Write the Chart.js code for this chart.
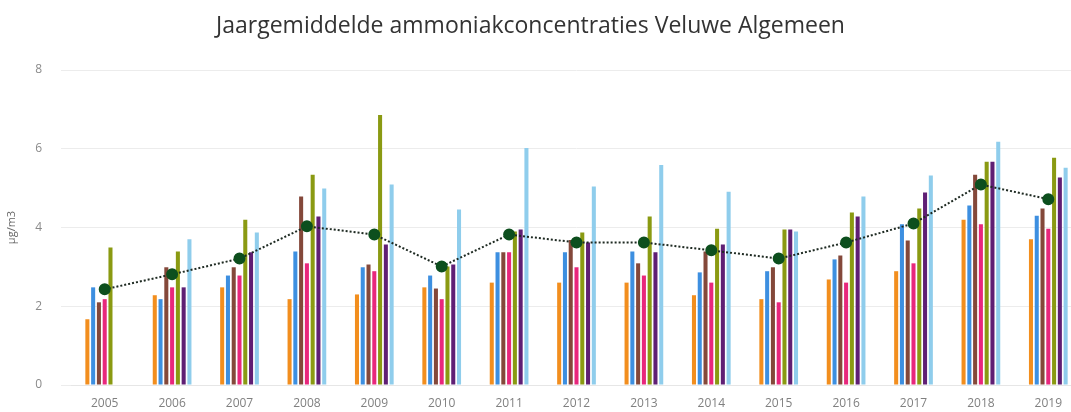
<!DOCTYPE html>
<html lang="nl">
<head>
    <meta charset="UTF-8">
    <title>Ammoniak Veluwe</title>
    <script src="https://cdn.jsdelivr.net/npm/chart.js"></script>
    <style>
        html, body { margin: 0; padding: 0; background: #fff; overflow: hidden; }
        #wrap { position: relative; width: 1071px; height: 412px; overflow: hidden; }
        #wrap canvas { position: absolute; left: 0; top: 0; }
        #title {
            position: absolute; left: 0; top: 9px; width: 1061px;
            text-align: center; font-family: 'Open Sans', sans-serif;
            font-size: 23px; color: #333; line-height: 30px; z-index: 2;
        }
    </style>
</head>
<body>
    <div id="wrap">
        <div id="title">Jaargemiddelde ammoniakconcentraties Veluwe Algemeen</div>
        <canvas id="nh3Chart" width="1089" height="412"></canvas>
    </div>

    <script>
        // Jaren en gemeten jaargemiddelden per meetpunt (µg/m3)
        const years = ["2005", "2006", "2007", "2008", "2009", "2010", "2011", "2012", "2013", "2014", "2015", "2016", "2017", "2018", "2019"];
        const yTicks = [0, 2, 4, 6, 8];

        const meetpuntA = [1.67, 2.28, 2.48, 2.18, 2.30, 2.48, 2.60, 2.60, 2.60, 2.28, 2.18, 2.68, 2.89, 4.20, 3.70];
        const meetpuntB = [2.48, 2.18, 2.78, 3.39, 2.99, 2.78, 3.37, 3.37, 3.39, 2.86, 2.89, 3.19, 4.08, 4.56, 4.30];
        const meetpuntC = [2.10, 2.99, 2.99, 4.79, 3.06, 2.45, 3.37, 3.68, 3.09, 3.39, 2.99, 3.29, 3.67, 5.34, 4.48];
        const meetpuntD = [2.18, 2.48, 2.78, 3.09, 2.89, 2.18, 3.37, 2.99, 2.78, 2.60, 2.10, 2.60, 3.09, 4.08, 3.97];
        const meetpuntE = [3.49, 3.39, 4.20, 5.34, 6.86, 3.01, 3.90, 3.87, 4.28, 3.97, 3.95, 4.38, 4.48, 5.67, 5.77];
        const meetpuntF = [null, 2.48, 3.37, 4.28, 3.57, 3.06, 3.95, 3.62, 3.37, 3.57, 3.95, 4.28, 4.89, 5.67, 5.27];
        const meetpuntG = [null, 3.70, 3.87, 4.99, 5.09, 4.46, 6.02, 5.04, 5.59, 4.91, 3.90, 4.79, 5.32, 6.18, 5.52];
        const gemiddelde = [2.43, 2.81, 3.21, 4.03, 3.82, 3.01, 3.82, 3.62, 3.62, 3.42, 3.21, 3.62, 4.10, 5.09, 4.72];

        const barSeries = [
            { label: "Meetpunt A", data: meetpuntA, color: "#f28e1e" },
            { label: "Meetpunt B", data: meetpuntB, color: "#3d8fe0" },
            { label: "Meetpunt C", data: meetpuntC, color: "#84483a" },
            { label: "Meetpunt D", data: meetpuntD, color: "#e8277c" },
            { label: "Meetpunt E", data: meetpuntE, color: "#8a9a12" },
            { label: "Meetpunt F", data: meetpuntF, color: "#5f1f74" },
            { label: "Meetpunt G", data: meetpuntG, color: "#8fcdec" }
        ];

        const datasets = barSeries.map(s => ({
            type: "bar",
            label: s.label,
            data: s.data,
            backgroundColor: s.color,
            borderWidth: 0,
            barPercentage: 0.7,
            categoryPercentage: 0.6,
            order: 1
        }));

        datasets.push({
            type: "line",
            label: "Gemiddelde",
            data: gemiddelde,
            borderColor: "#1e2a22",
            borderWidth: 2,
            borderDash: [2, 2],
            pointRadius: 5,
            pointBackgroundColor: "#0d4f1e",
            pointBorderColor: "#0d4f1e",
            tension: 0,
            fill: false,
            order: 0
        });

        new Chart(document.getElementById("nh3Chart"), {
            data: { labels: years, datasets: datasets },
            options: {
                responsive: false,
                devicePixelRatio: 1,
                animation: false,
                layout: { padding: { left: 0, right: 0, top: 70, bottom: 0 } },
                plugins: {
                    legend: { display: false },
                    tooltip: { enabled: false },
                    title: { display: false }
                },
                scales: {
                    x: {
                        offset: true,
                        grid: { display: false, drawTicks: true, tickLength: 11 },
                        border: { display: true, color: "#e6e6e6" },
                        ticks: {
                            color: "#808080",
                            font: { family: "'Open Sans'", size: 12 },
                            padding: 0,
                            maxRotation: 0
                        },
                        afterFit: s => { s.height = 27; }
                    },
                    y: {
                        min: 0,
                        max: 8,
                        afterBuildTicks: s => { s.ticks = yTicks.map(v => ({ value: v })); },
                        // short tick marks let the grid lines run a bit left of the plot
                        grid: { color: "#ececec", tickColor: "#ececec", drawTicks: true, tickLength: 10 },
                        border: { display: false },
                        ticks: {
                            color: "#8a8a8a",
                            font: { family: "'Open Sans'", size: 12 },
                            padding: 19
                        },
                        title: {
                            display: true,
                            text: "µg/m3",
                            color: "#666",
                            font: { family: "'Open Sans'", size: 11 },
                            padding: { top: 5, bottom: 0 }
                        },
                        afterFit: s => { s.width = 71; }
                    }
                }
            }
        });
    </script>
</body>
</html>
